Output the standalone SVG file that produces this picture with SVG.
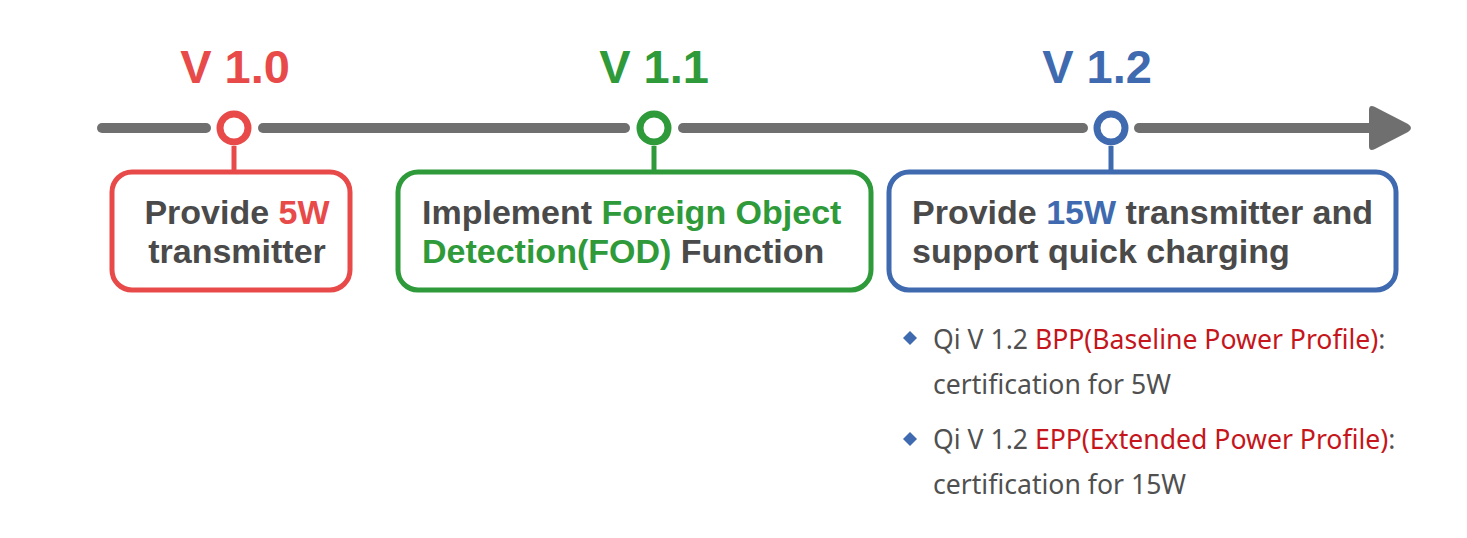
<svg xmlns="http://www.w3.org/2000/svg" width="1467" height="538" viewBox="0 0 1467 538">
<style>
.ver{font-family:"Liberation Sans",Arial,sans-serif;font-weight:bold;font-size:47px;text-anchor:middle}
.box{fill:#fff;stroke-width:5}
.bt{font-family:"Liberation Sans",Arial,sans-serif;font-weight:bold;font-size:34px;fill:#4a4a4a}
.note{font-family:"Noto Sans",sans-serif;font-size:26.6px;fill:#505050}
.hl{fill:#c4161c}
.dot{fill:#fff;stroke-width:7}
</style>
<rect width="1467" height="538" fill="#fff"/>
<g id="connectors">
<g stroke="#6f6f6f" stroke-width="10" stroke-linecap="round" fill="none">
<line x1="102" y1="128" x2="206" y2="128"/>
<line x1="263" y1="128" x2="625" y2="128"/>
<line x1="683" y1="128" x2="1083" y2="128"/>
<line x1="1139" y1="128" x2="1378" y2="128"/>
</g>
<path d="M1369 110 Q1369 104 1375 107 L1408 124 Q1414 128 1408 132 L1375 149 Q1369 152 1369 146 Z" fill="#6f6f6f"/>
<line x1="234" y1="146" x2="234" y2="172" stroke="#e84a4a" stroke-width="5"/>
<line x1="654" y1="146" x2="654" y2="172" stroke="#2e9a3a" stroke-width="5"/>
<line x1="1111" y1="146" x2="1111" y2="172" stroke="#3f6ab0" stroke-width="5"/>
</g>
<g id="v10">
<text class="ver" x="235" y="83" fill="#e84a4a">V 1.0</text>
<circle class="dot" cx="234" cy="128" r="14" stroke="#e84a4a"/>
<rect class="box" x="112" y="172" width="238" height="118" rx="20" stroke="#e84a4a"/>
<text class="bt" x="237" y="224" text-anchor="middle">Provide <tspan fill="#e84a4a">5W</tspan></text>
<text class="bt" x="237" y="263" text-anchor="middle">transmitter</text>
</g>
<g id="v11">
<text class="ver" x="654" y="83" fill="#2e9a3a">V 1.1</text>
<circle class="dot" cx="654" cy="128" r="14" stroke="#2e9a3a"/>
<rect class="box" x="398" y="172" width="473" height="118" rx="20" stroke="#2e9a3a"/>
<text class="bt" x="422" y="224">Implement <tspan fill="#2e9a3a">Foreign Object</tspan></text>
<text class="bt" x="422" y="263"><tspan fill="#2e9a3a">Detection(FOD)</tspan> Function</text>
</g>
<g id="v12">
<text class="ver" x="1097" y="83" fill="#3f6ab0">V 1.2</text>
<circle class="dot" cx="1111" cy="128" r="14" stroke="#3f6ab0"/>
<rect class="box" x="889" y="172" width="507" height="118" rx="20" stroke="#3f6ab0"/>
<text class="bt" x="912" y="224">Provide <tspan fill="#3f6ab0">15W</tspan> transmitter and</text>
<text class="bt" x="912" y="263">support quick charging</text>
</g>
<g id="notes">
<path d="M910 331 L917 338 L910 345 L903 338 Z" fill="#3f6ab0"/>
<text class="note" x="933" y="349">Qi V 1.2 <tspan class="hl">BPP(Baseline Power Profile)</tspan>:</text>
<text class="note" x="933" y="394">certification for 5W</text>
<path d="M910 432 L917 439 L910 446 L903 439 Z" fill="#3f6ab0"/>
<text class="note" x="933" y="449">Qi V 1.2 <tspan class="hl">EPP(Extended Power Profile)</tspan>:</text>
<text class="note" x="933" y="494">certification for 15W</text>
</g>
</svg>
